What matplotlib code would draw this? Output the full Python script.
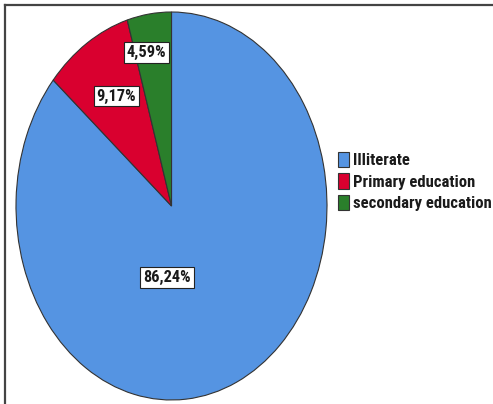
import matplotlib
matplotlib.use("Agg")
import matplotlib.pyplot as plt
from matplotlib.lines import Line2D
from matplotlib import font_manager as fm

categories = ["Illiterate", "Primary education", "secondary education"]
values = [86.24, 9.17, 4.59]
pct_labels = ["86,24%", "9,17%", "4,59%"]
colors = ["#5594E2", "#D9002F", "#2A7F2B"]

# choose a narrow font if one is installed
avail = {(f.name, str(f.stretch)) for f in fm.fontManager.ttflist}
names = {f.name for f in fm.fontManager.ttflist}
font_family = "Liberation Sans"
font_stretch = "normal"
for cand in ["Liberation Sans Narrow", "Roboto Condensed", "Open Sans Condensed"]:
    if cand in names:
        font_family = cand
        break
else:
    if any(n == "DejaVu Sans" and s in ("condensed", "semi-condensed", "75", "87")
           for n, s in avail):
        font_family = "DejaVu Sans"
        font_stretch = "condensed"

W, H = 493, 404
fig = plt.figure(figsize=(W / 100, H / 100), dpi=100)
fig.patch.set_facecolor("white")

fig.add_artist(Line2D([5 / W, 1.0], [1 - 5 / H, 1 - 5 / H], transform=fig.transFigure,
                      color="#444444", lw=1.6))
fig.add_artist(Line2D([5 / W, 5 / W], [0, 1 - 5 / H], transform=fig.transFigure,
                      color="#444444", lw=1.6))

ax = fig.add_axes([16 / W, 4 / H, 311 / W, 388 / H])
wedges, _ = ax.pie(values, colors=colors, startangle=90, counterclock=False,
                   wedgeprops=dict(edgecolor="#333333", linewidth=0.8))
ax.set_aspect("auto")
ax.set_xlim(-1, 1)
ax.set_ylim(-1, 1)
ax.axis("off")

narrow = font_family != "Liberation Sans"
lbl_size = 11.8 if narrow else 10.5
leg_size = 12 if narrow else 10

label_pos = [(-0.03, -0.37), (-0.355, 0.567), (-0.16, 0.79)]
for (x, y), t in zip(label_pos, pct_labels):
    ax.text(x, y, t, ha="center", va="center", fontsize=lbl_size, fontweight="bold",
            family=[font_family, "DejaVu Sans"], fontstretch=font_stretch,
            color="#1a1a1a",
            bbox=dict(boxstyle="square,pad=0.18", fc="white", ec="#222222", lw=0.8))

leg = fig.legend(wedges, categories, loc="upper left",
                 bbox_to_anchor=(326 / W, 1 - 140 / H), frameon=False,
                 prop=fm.FontProperties(family=[font_family, "DejaVu Sans"],
                                        weight="bold", size=leg_size,
                                        stretch=font_stretch),
                 handlelength=0.7, handleheight=1.05, handletextpad=0.25,
                 labelspacing=0.3, borderpad=0.2)
for t in leg.get_texts():
    t.set_color("#1a1a1a")

fig.savefig("out.png", dpi=100)
